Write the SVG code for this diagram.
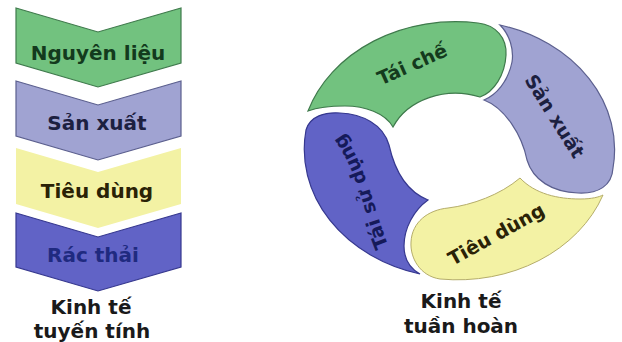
<svg xmlns="http://www.w3.org/2000/svg" width="622" height="342" viewBox="0 0 622 342">
<style>
  .t { font-family: "DejaVu Sans", Verdana, sans-serif; font-weight: bold; font-size: 20px; text-anchor: middle; }
  .rt { font-family: "DejaVu Sans", Verdana, sans-serif; font-weight: bold; font-size: 19px; text-anchor: middle; }
  .green { fill: #72c27f; stroke: #3f7a4c; stroke-width: 1.2; }
  .lav { fill: #a0a3d2; stroke: #5b5f8e; stroke-width: 1.2; }
  .yel { fill: #f3f2a4; stroke: #b5ad6a; stroke-width: 1; }
  .blue { fill: #6163c6; stroke: #36388f; stroke-width: 1.2; }
  .cap { fill: #1a1a1a; }
</style>
<defs>
  <path id="arcR" d="M 394,258 C 373,216 369,160 334,123"/>
</defs>
<rect width="622" height="342" fill="#ffffff"/>

<g id="linear">
  <g id="nguyen-lieu">
    <polygon class="green" points="16,8 98,32 181,8 181,63 98,87 16,63"/>
    <text class="t" x="98" y="60" fill="#133a1d">Nguyên liệu</text>
  </g>
  <g id="san-xuat">
    <polygon class="lav" points="16,81 98,105 181,81 181,136 98,160 16,136"/>
    <text class="t" x="97" y="130" fill="#1c2040">Sản xuất</text>
  </g>
  <g id="tieu-dung">
    <polygon class="yel" style="stroke:none" points="16,148 98,172 181,148 181,204 98,228 16,204"/>
    <text class="t" x="97" y="198" fill="#2a2206">Tiêu dùng</text>
  </g>
  <g id="rac-thai">
    <polygon class="blue" points="16,213 98,237 181,213 181,267 98,291 16,267"/>
    <text class="t" x="93" y="262" fill="#1f2a80">Rác thải</text>
  </g>
  <g id="label-linear">
    <text class="t cap" x="91" y="314">Kinh tế</text>
    <text class="t cap" x="92" y="338">tuyến tính</text>
  </g>
</g>

<g id="circular">
  <g id="tai-che">
    <path class="green" d="M 308,111 A 155 129 0 0 1 478,23 C 496,25 507,38 506,55 C 505,75 494,92 480,97 A 68 56 0 0 0 393,127 C 385,113 365,106 345,106 C 330,106 316,108 308,111 Z"/>
    <text class="rt" x="0" y="7" transform="translate(412,64) rotate(-24)" fill="#143a1d">Tái chế</text>
  </g>
  <g id="san-xuat-c">
    <path class="lav" d="M 500,25 A 155 129 0 0 1 613,168 C 612,186 598,194 578,193 C 552,192 533,180 527,160 C 522,135 505,108 484,100 C 496,95 508,82 512,62 C 514,50 510,35 500,25 Z"/>
    <text class="rt" x="0" y="7" transform="translate(555,116) rotate(58)" fill="#1c2040">Sản xuất</text>
  </g>
  <g id="tieu-dung-c">
    <path class="yel" d="M 603,195 A 155 129 0 0 1 440,279 C 420,276 410,258 411,242 C 412,222 428,210 448,208 C 472,205 500,195 520,178 C 535,194 558,199 580,199 C 592,199 599,197 603,195 Z"/>
    <text class="rt" x="0" y="7" transform="translate(496,234) rotate(-29)" fill="#2a2206">Tiêu dùng</text>
  </g>
  <g id="tai-su-dung">
    <path class="blue" d="M 420,274 A 155 129 0 0 1 306,130 C 310,116 325,112 340,113 C 362,114 383,124 389,145 C 395,172 408,192 428,200 C 414,210 404,228 404,246 C 404,260 411,269 420,274 Z"/>
    <text class="rt" fill="#151a5a"><textPath href="#arcR" startOffset="50%">Tái sử dụng</textPath></text>
  </g>
  <g id="label-circular">
    <text class="t cap" x="461" y="308">Kinh tế</text>
    <text class="t cap" x="461" y="333">tuần hoàn</text>
  </g>
</g>
</svg>
